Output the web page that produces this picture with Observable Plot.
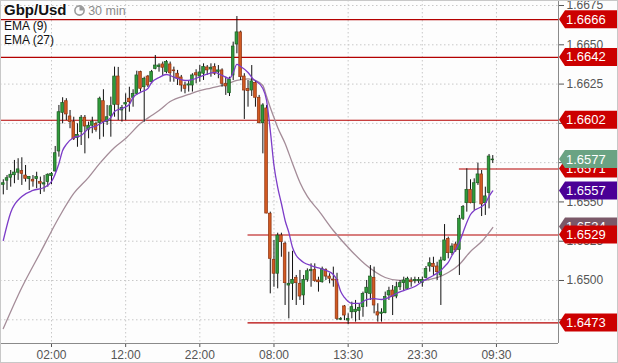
<!DOCTYPE html>
<html>
<head>
<meta charset="utf-8">
<script src="https://cdn.jsdelivr.net/npm/d3@7"></script>
<script src="https://cdn.jsdelivr.net/npm/@observablehq/plot@0.6"></script>
<style>
  body { margin: 0; background: #fff; }
  #wrap { position: relative; width: 618px; height: 363px; background: #fdfdfd; font-family: "Liberation Sans", Arial, sans-serif; overflow: hidden; }
  #chart svg { display: block; }
  .hdr { position: absolute; left: 4px; top: 1px; font-size: 15px; font-weight: bold; color: #111; line-height: 17px; }
  .hdr .tf { font-weight: normal; font-size: 12.5px; color: #8a8a8a; }
  .ema { position: absolute; left: 4px; font-size: 12px; color: #111; line-height: 14px; }
  .border { position: absolute; left: 0; top: 0; width: 616px; height: 361px; border: 1px solid #c8c8c8; pointer-events: none; }
</style>
</head>
<body>
<div id="wrap">
  <div id="chart"></div>
  <div class="hdr">Gbp/Usd <svg width="11" height="11" viewBox="0 0 11 11" style="vertical-align:-1px;margin-left:3px"><circle cx="5.5" cy="5.5" r="4.6" fill="none" stroke="#999" stroke-width="1.6"/><path d="M5.5,5.5 L5.5,1.5 A4,4 0 0 1 9.5,5.5 Z" fill="#999"/></svg><span class="tf"> 30 min</span></div>
  <div class="ema" style="top:19px">EMA (9)</div>
  <div class="ema" style="top:33px">EMA (27)</div>
  <div class="border"></div>
</div>
<script>
// ---- data (GBP/USD, 30 min bars) ----
const open = [1.65609,1.65635,1.65654,1.65670,1.65686,1.65696,1.65668,1.65645,1.65641,1.65645,
1.65628,1.65611,1.65626,1.65664,1.65694,1.65821,1.66067,1.66141,1.66044,1.66008,
1.65906,1.65944,1.66036,1.65959,1.65985,1.65997,1.66001,1.66141,1.66008,1.66048,
1.66118,1.66298,1.66082,1.66120,1.66157,1.66163,1.66188,1.66326,1.66230,1.66298,
1.66262,1.66347,1.66358,1.66375,1.66326,1.66375,1.66337,1.66316,1.66292,1.66241,
1.66241,1.66241,1.66319,1.66298,1.66316,1.66356,1.66343,1.66358,1.66328,1.66337,
1.66252,1.66192,1.66305,1.66502,1.66579,1.66298,1.66218,1.66209,1.66258,1.66163,
1.66001,1.66095,1.65425,1.65132,1.65043,1.65286,1.65234,1.64968,1.64979,1.65017,
1.64979,1.64905,1.65004,1.65059,1.65068,1.65000,1.64989,1.65068,1.65025,1.65006,
1.65004,1.64750,1.64835,1.64745,1.64798,1.64798,1.64805,1.64830,1.64919,1.64915,
1.65017,1.64798,1.64788,1.64792,1.64905,1.64936,1.64898,1.64957,1.64983,1.64947,
1.65000,1.64996,1.64996,1.64983,1.65017,1.65089,1.65106,1.65089,1.65032,1.65127,
1.65265,1.65174,1.65229,1.65195,1.65393,1.65492,1.65577,1.65492,1.65619,1.65675,
1.65492,1.65556,1.65765];
const high = [1.65641,1.65668,1.65700,1.65764,1.65775,1.65781,1.65732,1.65662,1.65668,1.65689,
1.65658,1.65668,1.65679,1.65687,1.65853,1.66114,1.66163,1.66157,1.66082,1.66039,
1.65997,1.66050,1.66050,1.66008,1.66039,1.66008,1.66167,1.66214,1.66114,1.66167,
1.66358,1.66356,1.66114,1.66188,1.66230,1.66214,1.66332,1.66332,1.66294,1.66305,
1.66337,1.66432,1.66379,1.66390,1.66400,1.66390,1.66358,1.66337,1.66305,1.66262,
1.66273,1.66316,1.66341,1.66368,1.66379,1.66368,1.66379,1.66379,1.66368,1.66347,
1.66294,1.66294,1.66517,1.66680,1.66587,1.66316,1.66273,1.66368,1.66269,1.66178,
1.66125,1.66114,1.65435,1.65255,1.65301,1.65301,1.65244,1.65180,1.65186,1.65032,
1.65064,1.65032,1.65074,1.65106,1.65106,1.65021,1.65085,1.65074,1.65043,1.65085,
1.65046,1.64764,1.64841,1.64788,1.64862,1.64873,1.64852,1.64926,1.65000,1.65095,
1.65085,1.64852,1.64820,1.64926,1.64957,1.64968,1.64989,1.65000,1.65021,1.65021,
1.65017,1.65021,1.65019,1.65021,1.65089,1.65144,1.65148,1.65116,1.65148,1.65356,
1.65276,1.65234,1.65244,1.65414,1.65477,1.65711,1.65641,1.65647,1.65747,1.65700,
1.65594,1.65802,1.65795];
const low = [1.65545,1.65573,1.65594,1.65616,1.65637,1.65605,1.65626,1.65573,1.65594,1.65584,
1.65547,1.65562,1.65594,1.65611,1.65689,1.65785,1.65997,1.66018,1.65966,1.65891,
1.65848,1.65859,1.65806,1.65902,1.65934,1.65944,1.65896,1.65912,1.65987,1.65912,
1.66039,1.66018,1.66008,1.66018,1.66071,1.66103,1.66178,1.66199,1.66008,1.66228,
1.66252,1.66341,1.66326,1.66305,1.66316,1.66262,1.66262,1.66241,1.66199,1.66188,
1.66199,1.66199,1.66252,1.66262,1.66273,1.66305,1.66294,1.66305,1.66284,1.66230,
1.66178,1.66171,1.66273,1.66443,1.66273,1.66025,1.66103,1.66171,1.66103,1.65997,
1.65806,1.65425,1.64915,1.64957,1.64947,1.65148,1.64841,1.64756,1.64873,1.64841,
1.64873,1.64841,1.64989,1.64957,1.64989,1.64926,1.64983,1.65000,1.64979,1.64957,
1.64745,1.64745,1.64745,1.64720,1.64756,1.64735,1.64745,1.64766,1.64830,1.64873,
1.64788,1.64735,1.64735,1.64788,1.64873,1.64777,1.64884,1.64936,1.64936,1.64941,
1.64957,1.64979,1.64981,1.64957,1.65011,1.65053,1.65032,1.65000,1.64841,1.65123,
1.65138,1.65159,1.65180,1.65032,1.65382,1.65435,1.65488,1.65446,1.65605,1.65407,
1.65414,1.65456,1.65745];
const close = [1.65619,1.65651,1.65673,1.65687,1.65707,1.65679,1.65647,1.65658,1.65630,1.65658,
1.65616,1.65619,1.65673,1.65679,1.65810,1.66071,1.66129,1.66057,1.66008,1.65899,
1.65927,1.66036,1.65980,1.65985,1.66010,1.65959,1.66157,1.66008,1.66039,1.66109,
1.66298,1.66118,1.66099,1.66129,1.66135,1.66188,1.66305,1.66220,1.66284,1.66241,
1.66326,1.66368,1.66368,1.66354,1.66390,1.66319,1.66332,1.66284,1.66241,1.66220,
1.66248,1.66305,1.66305,1.66324,1.66358,1.66337,1.66354,1.66316,1.66337,1.66252,
1.66235,1.66279,1.66489,1.66579,1.66294,1.66209,1.66205,1.66267,1.66163,1.66001,
1.66114,1.65426,1.65138,1.65043,1.65286,1.65244,1.64983,1.64979,1.65004,1.64983,
1.64898,1.65004,1.65059,1.65068,1.64996,1.64989,1.65074,1.65025,1.65011,1.65000,
1.64756,1.64756,1.64777,1.64756,1.64830,1.64814,1.64826,1.64915,1.64954,1.65025,
1.64841,1.64777,1.64796,1.64894,1.64932,1.64894,1.64957,1.64983,1.65000,1.65011,
1.64989,1.65004,1.65004,1.65004,1.65074,1.65110,1.65085,1.65053,1.65127,1.65255,
1.65174,1.65216,1.65191,1.65393,1.65467,1.65577,1.65492,1.65619,1.65675,1.65484,
1.65535,1.65789,1.65770];

// EMA lines at bar indices
const ema9Idx = [0,2,5,8,11,13,15,16,17,19,21,23,25,27,29,30,32,34,35,37,39,40,42,44,46,49,51,54,57,59,61,62,63,64,66,67,70,71,72,73,74,75,76,77,78,79,80,81,83,85,87,89,90,91,92,93,94,96,98,100,102,104,106,108,111,113,116,118,119,120,121,122,123,124,125,126,127,128,129,130,131,132];
const ema9Val = [1.65255,1.65433,1.65535,1.65573,1.65592,1.65630,1.65745,1.65827,1.65866,1.65910,1.65923,1.65967,1.65983,1.66009,1.66037,1.66076,1.66095,1.66120,1.66165,1.66197,1.66222,1.66260,1.66292,1.66311,1.66295,1.66273,1.66279,1.66305,1.66324,1.66305,1.66286,1.66324,1.66375,1.66362,1.66324,1.66292,1.66222,1.66146,1.65955,1.65732,1.65592,1.65490,1.65382,1.65306,1.65210,1.65159,1.65134,1.65115,1.65095,1.65080,1.65064,1.65038,1.65000,1.64930,1.64892,1.64866,1.64854,1.64854,1.64879,1.64885,1.64879,1.64892,1.64917,1.64936,1.64962,1.64994,1.65032,1.65064,1.65089,1.65115,1.65159,1.65197,1.65242,1.65306,1.65369,1.65420,1.65446,1.65458,1.65471,1.65490,1.65535,1.65570];
const ema27Idx = [0,5,10,15,19,23,26,30,33,37,40,42,45,50,53,56,60,63,66,68,70,71,72,73,74,76,78,80,82,85,89,94,98,103,107,112,117,120,123,126,129,132];
const ema27Val = [1.64694,1.64955,1.65178,1.65401,1.65554,1.65656,1.65745,1.65847,1.65904,1.65999,1.66050,1.66082,1.66139,1.66184,1.66209,1.66225,1.66248,1.66273,1.66283,1.66273,1.66241,1.66171,1.66101,1.66037,1.65974,1.65872,1.65745,1.65624,1.65535,1.65446,1.65318,1.65185,1.65095,1.65019,1.65000,1.65000,1.65019,1.65051,1.65102,1.65185,1.65248,1.65337];

// horizontal levels and where they start (bar index; null = from left edge)
const levelVal = [1.6666, 1.6642, 1.6602, 1.6571, 1.6529, 1.6473];
const levelStart = [null, null, null, 123, 66, 66];

// right-hand price tags (drawn in this order)
const tagVal   = [1.6666, 1.6642, 1.6602, 1.6473, 1.6571, 1.6577, 1.6557, 1.6534, 1.6529];
const tagText  = ["1.6666","1.6642","1.6602","1.6473","1.6571","1.6577","1.6557","1.6534","1.6529"];
const tagColor = ["#cc0000","#cc0000","#cc0000","#cc0000","#cc0000","#6aa383","#4b0096","#7a5868","#cc0000"];

// axes
const yTicks = [1.6475, 1.6500, 1.6525, 1.6550, 1.6575, 1.6600, 1.6625, 1.6650, 1.6675];
const xTickIdx = [13, 33, 53, 73, 93, 113, 133];
const xTickLabel = ["02:00", "12:00", "22:00", "08:00", "13:30", "23:30", "09:30"];

// ---- build ----
const candles = open.map((o, i) => ({i, open: o, high: high[i], low: low[i], close: close[i]}));
const ema9 = ema9Idx.map((i, k) => ({i, v: ema9Val[k]}));
const ema27 = ema27Idx.map((i, k) => ({i, v: ema27Val[k]}));
const xDom = [-0.755, 149.73];
const yDom = [1.64599, 1.66782];
const levels = levelVal.map((v, k) => ({v, x1: levelStart[k] == null ? xDom[0] : levelStart[k], x2: xDom[1]}));

const up = d => d.close >= d.open;

const plot = Plot.plot({
  width: 618,
  height: 363,
  marginLeft: 0,
  marginRight: 60,
  marginTop: 0,
  marginBottom: 20,
  style: {fontFamily: "'Liberation Sans', Arial, sans-serif", fontSize: "12px", color: "#555", background: "transparent", overflow: "visible"},
  x: {domain: xDom, ticks: xTickIdx, tickFormat: d => xTickLabel[xTickIdx.indexOf(d)], tickSize: 4, tickPadding: 3, label: null},
  y: {domain: yDom, axis: "right", ticks: yTicks, tickFormat: d3.format(".4f"), tickSize: 5, tickPadding: 3, label: null},
  marks: [
    Plot.ruleY(yTicks, {stroke: "#c8c8c8", strokeDasharray: "1.5,2.5"}),
    Plot.ruleX(xTickIdx, {stroke: "#c8c8c8", strokeDasharray: "1.5,2.5"}),
    Plot.ruleY(levels, {y: "v", x1: "x1", x2: "x2", stroke: "#b40000", strokeWidth: 1.1}),
    Plot.line(ema27, {x: "i", y: "v", stroke: "#a48c98", strokeWidth: 1.3, curve: "monotone-x"}),
    Plot.ruleX(candles, {x: "i", y1: "low", y2: "high", stroke: "#111", strokeWidth: 1}),
    Plot.rect(candles, {x1: d => d.i - 0.36, x2: d => d.i + 0.36, y1: "open", y2: "close",
      fill: d => up(d) ? "#2f9b3a" : "#d25a22",
      stroke: d => up(d) ? "#1b5a20" : "#8c3210", strokeWidth: 0.7}),
    Plot.line(ema9, {x: "i", y: "v", stroke: "#7c3cc8", strokeWidth: 1.3, curve: "monotone-x"}),
    Plot.ruleY([yDom[0]], {stroke: "#8a8a8a"}),
    Plot.ruleX([xDom[1]], {stroke: "#8a8a8a"})
  ]
});

document.getElementById("chart").appendChild(plot);

// price tags positioned through the plot's own scales
const ys = plot.scale("y");
const xr = plot.scale("x").range;
const x0 = xr[1] + 1;
const svg = d3.select(plot);
const g = svg.append("g")
  .attr("font-family", "'Liberation Sans', Arial, sans-serif")
  .attr("font-size", 13)
  .attr("text-anchor", "start");
tagVal.forEach((v, k) => {
  const y = ys.apply(v);
  g.append("path")
    .attr("d", `M${x0},${y}L${x0 + 6},${y - 9}H618V${y + 9}H${x0 + 6}Z`)
    .attr("fill", tagColor[k]);
  g.append("text")
    .attr("x", x0 + 7).attr("y", y + 4.6)
    .attr("text-anchor", "start")
    .attr("fill", "#fff")
    .text(tagText[k]);
});
</script>
</body>
</html>
